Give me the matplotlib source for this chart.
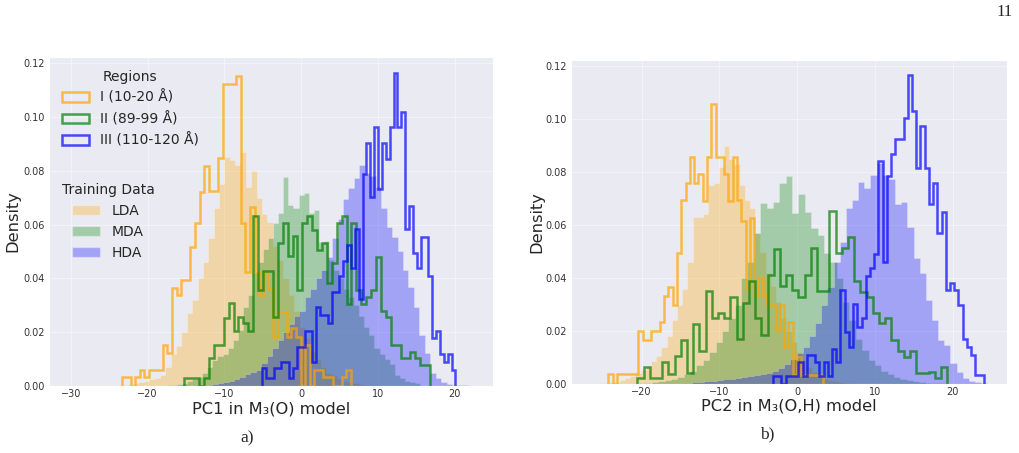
import matplotlib.pyplot as plt
import matplotlib.patches as mpatches
import numpy as np
import seaborn as sns

sns.set_style("darkgrid")
plt.rcParams['font.family'] = ['DejaVu Sans']

# ---------------- panel a) PC1 in M3(O) ----------------
# training data (filled histograms), 50 bins over [start, stop]
a_lda_range = (-24.0, 11.0)
a_lda = [0.0003, 0.0003, 0.0006, 0.001, 0.0015, 0.002, 0.0025, 0.003, 0.0041, 0.0072,
         0.012, 0.015, 0.020, 0.027, 0.032, 0.040, 0.046, 0.055, 0.066, 0.075,
         0.085, 0.084, 0.082, 0.087, 0.074, 0.080, 0.070, 0.064, 0.061, 0.052,
         0.047, 0.040, 0.034, 0.028, 0.022, 0.018, 0.013, 0.010, 0.007, 0.005,
         0.004, 0.003, 0.002, 0.0015, 0.001, 0.0008, 0.0005, 0.0003, 0.0002, 0.0001]
a_mda_range = (-17.5, 15.5)
a_mda = [0.0003, 0.0005, 0.0008, 0.0012, 0.0018, 0.0025, 0.0035, 0.005, 0.007, 0.0095,
         0.011, 0.012, 0.014, 0.017, 0.021, 0.0295, 0.034, 0.042, 0.046, 0.051,
         0.055, 0.0605, 0.0642, 0.0778, 0.0671, 0.0663, 0.071, 0.0716, 0.0642, 0.0654,
         0.0537, 0.054, 0.047, 0.043, 0.040, 0.036, 0.033, 0.030, 0.026, 0.022,
         0.019, 0.014, 0.012, 0.010, 0.008, 0.004, 0.003, 0.002, 0.0015, 0.001]
a_hda_range = (-13.0, 22.5)
a_hda = [0.0003, 0.0005, 0.0007, 0.001, 0.0014, 0.002, 0.0027, 0.0035, 0.0045, 0.0052,
         0.006, 0.0085, 0.011, 0.014, 0.017, 0.020, 0.023, 0.026, 0.028, 0.033,
         0.036, 0.040, 0.043, 0.048, 0.055, 0.062, 0.0694, 0.0735, 0.0772, 0.0822,
         0.0791, 0.0781, 0.0741, 0.066, 0.0592, 0.0555, 0.050, 0.0431, 0.0369, 0.0295,
         0.019, 0.0121, 0.0047, 0.0028, 0.0016, 0.0007, 0.0005, 0.0003, 0.0002, 0.0001]

# regions (step histograms)
a_r1_range = (-23.4, 6.5)
a_r1 = [0.0035, 0.0035, 0.0, 0.0035, 0.0059, 0.0035, 0.0059, 0.0059, 0.0059, 0.0152,
        0.0121, 0.0363, 0.0338, 0.0394, 0.0394, 0.0518, 0.0605, 0.0722, 0.0818, 0.0725,
        0.0725, 0.0846, 0.1123, 0.1123, 0.1123, 0.1152, 0.0605, 0.0425, 0.0667, 0.042,
        0.034, 0.042, 0.036, 0.0183, 0.0276, 0.0276, 0.0183, 0.0214, 0.0183, 0.0,
        0.0152, 0.0, 0.0059, 0.0059, 0.0035, 0.0035, 0.0, 0.0, 0.0035, 0.0059]
a_r2_range = (-15.2, 16.8)
a_r2 = [0.0029, 0.0029, 0.0029, 0.0, 0.003, 0.0103, 0.0152, 0.0152, 0.0252, 0.0307,
        0.0206, 0.0255, 0.0235, 0.0206, 0.0633, 0.0357, 0.0429, 0.0429, 0.0255, 0.053,
        0.0607, 0.0483, 0.0559, 0.0357, 0.0607, 0.0633, 0.058, 0.0506, 0.053, 0.0382,
        0.0456, 0.0605, 0.0633, 0.0304, 0.0607, 0.0357, 0.0304, 0.033, 0.0357, 0.048,
        0.028, 0.0255, 0.0152, 0.0152, 0.0103, 0.0103, 0.0128, 0.0103, 0.0078, 0.0078]
a_r3_range = (-5.1, 20.1)
a_r3 = [0.0066, 0.0029, 0.0029, 0.0066, 0.0066, 0.009, 0.009, 0.0029, 0.0066, 0.0146,
        0.0146, 0.0206, 0.0206, 0.009, 0.0293, 0.0264, 0.0264, 0.0233, 0.0351, 0.0351,
        0.0409, 0.0466, 0.0524, 0.0437, 0.0582, 0.0322, 0.0788, 0.0905, 0.0701, 0.0962,
        0.0731, 0.0902, 0.0844, 0.0962, 0.1165, 0.0962, 0.102, 0.0582, 0.067, 0.0496,
        0.0437, 0.0553, 0.0553, 0.0409, 0.0177, 0.0206, 0.0119, 0.009, 0.0119, 0.0059]

# ---------------- panel b) PC2 in M3(O,H) ----------------
b_lda_range = (-25.5, 8.0)
b_lda = [0.0002, 0.0003, 0.0006, 0.0009, 0.0015, 0.0022, 0.003, 0.004, 0.0053, 0.0068,
         0.0085, 0.0105, 0.014, 0.018, 0.024, 0.030, 0.036, 0.046, 0.063, 0.063,
         0.064, 0.075, 0.076, 0.082, 0.0898, 0.085, 0.083, 0.075, 0.0694, 0.0663,
         0.057, 0.050, 0.042, 0.037, 0.031, 0.025, 0.020, 0.016, 0.012, 0.009,
         0.0065, 0.0045, 0.003, 0.002, 0.0014, 0.001, 0.0006, 0.0004, 0.0002, 0.0001]
b_mda_range = (-21.16, 19.84)
b_mda = [0.0001, 0.0002, 0.0004, 0.0006, 0.001, 0.0014, 0.002, 0.0027, 0.0037, 0.005,
         0.007, 0.009, 0.012, 0.016, 0.020, 0.025, 0.030, 0.040, 0.046, 0.057,
         0.0682, 0.0663, 0.0688, 0.0757, 0.0785, 0.0644, 0.0716, 0.065, 0.059, 0.0562,
         0.0493, 0.0461, 0.040, 0.031, 0.024, 0.017, 0.013, 0.009, 0.007, 0.005,
         0.0037, 0.0025, 0.002, 0.0015, 0.001, 0.0008, 0.0005, 0.0003, 0.0002, 0.0001]
b_hda_range = (-15.12, 24.48)
b_hda = [0.0003, 0.0004, 0.0006, 0.0008, 0.001, 0.0012, 0.0015, 0.0018, 0.002, 0.0023,
         0.0026, 0.003, 0.0033, 0.0037, 0.0042, 0.005, 0.006, 0.0075, 0.0095, 0.0116,
         0.014, 0.018, 0.023, 0.030, 0.0367, 0.0461, 0.0537, 0.0663, 0.0694, 0.0763,
         0.0738, 0.0789, 0.0833, 0.0789, 0.0772, 0.0681, 0.0688, 0.0594, 0.0474, 0.0418,
         0.0317, 0.0242, 0.0166, 0.0147, 0.0078, 0.0046, 0.0021, 0.0012, 0.0007, 0.0003]

b_r1_range = (-24.3, 3.3)
b_r1 = [0.0037, 0.0, 0.0037, 0.0037, 0.0037, 0.0037, 0.0037, 0.0201, 0.0166, 0.0166,
        0.0201, 0.0201, 0.0235, 0.0332, 0.0365, 0.0298, 0.0496, 0.0694, 0.076, 0.0858,
        0.076, 0.0791, 0.0692, 0.0858, 0.1057, 0.0855, 0.0855, 0.0791, 0.0692, 0.0858,
        0.0694, 0.0615, 0.0362, 0.0628, 0.0332, 0.0399, 0.0332, 0.0298, 0.0298, 0.0204,
        0.0298, 0.0138, 0.0233, 0.0034, 0.0103, 0.0034, 0.0034, 0.0034, 0.0034, 0.0034]
b_r2_range = (-20.55, 19.3)
b_r2 = [0.0021, 0.0065, 0.0021, 0.0021, 0.0084, 0.0039, 0.0106, 0.0166, 0.0043, 0.0226,
        0.0126, 0.0351, 0.0248, 0.0267, 0.0248, 0.0327, 0.0169, 0.0307, 0.039, 0.0248,
        0.0185, 0.0411, 0.0509, 0.037, 0.0411, 0.0355, 0.0327, 0.0411, 0.0512, 0.0351,
        0.0351, 0.0654, 0.0493, 0.0512, 0.0553, 0.039, 0.0349, 0.033, 0.0267, 0.0229,
        0.0248, 0.0166, 0.0126, 0.0103, 0.0126, 0.0043, 0.0043, 0.0047, 0.0021, 0.0065]
b_r3_range = (-3.1, 24.0)
b_r3 = [0.003, 0.003, 0.0, 0.003, 0.003, 0.003, 0.0084, 0.003, 0.0109, 0.0109,
        0.0084, 0.003, 0.0084, 0.003, 0.0134, 0.0084, 0.0355, 0.0197, 0.0141, 0.0301,
        0.0216, 0.0248, 0.0408, 0.0437, 0.0491, 0.0842, 0.0462, 0.0786, 0.0868, 0.0923,
        0.0923, 0.1003, 0.1166, 0.103, 0.0814, 0.0975, 0.0814, 0.0679, 0.076, 0.0571,
        0.065, 0.0355, 0.0382, 0.0355, 0.0298, 0.017, 0.0139, 0.0109, 0.0033, 0.0033]

colors = ['orange', 'green', 'blue']
region_labels = ['I (10-20 Å)', 'II (89-99 Å)', 'III (110-120 Å)']
train_labels = ['LDA', 'MDA', 'HDA']


def edges_for(rng, vals):
    return np.linspace(rng[0], rng[1], len(vals) + 1)


def draw_panel(ax, fills, steps, xlabel, xlim, ylab_x):
    for (rng, vals), c in zip(fills, colors):
        ax.stairs(vals, edges_for(rng, vals), fill=True, facecolor=c,
                  edgecolor='white', lw=0.5, alpha=0.3)
    for (rng, vals), c in zip(steps, colors):
        ax.stairs(vals, edges_for(rng, vals), color=c, lw=1.8, alpha=0.7)
    ax.set_xlim(*xlim)
    ax.set_ylim(0, 0.1223)
    ax.set_yticks(np.arange(0, 0.121, 0.02))
    ax.set_xlabel(xlabel, fontsize=11.7)
    ax.set_ylabel('Density', fontsize=11.7)
    ax.xaxis.set_label_coords(0.5, -0.046)
    ax.yaxis.set_label_coords(ylab_x, 0.5)
    ax.tick_params(labelsize=7, colors='#333333', length=0)
    ax.tick_params(axis='x', pad=2.5)
    ax.tick_params(axis='y', pad=3)
    ax.grid(color='white', lw=0.5, alpha=0.6)


fig = plt.figure(figsize=(10.2, 4.53), dpi=100)
ax1 = fig.add_axes([49 / 1020, 1 - 386 / 453, 444 / 1020, 329 / 453])
ax2 = fig.add_axes([571 / 1020, 1 - 384 / 453, 436 / 1020, 324 / 453])

draw_panel(ax1,
           [(a_lda_range, a_lda), (a_mda_range, a_mda), (a_hda_range, a_hda)],
           [(a_r1_range, a_r1), (a_r2_range, a_r2), (a_r3_range, a_r3)],
           'PC1 in M₃(O) model', (-32.85, 25.0), -0.065)
draw_panel(ax2,
           [(b_lda_range, b_lda), (b_mda_range, b_mda), (b_hda_range, b_hda)],
           [(b_r1_range, b_r1), (b_r2_range, b_r2), (b_r3_range, b_r3)],
           'PC2 in M₃(O,H) model', (-29.1, 27.0), -0.062)
ax2.set_xticks([-20, -10, 0, 10, 20])

# two legends in panel a)
reg_handles = [mpatches.Patch(facecolor='none', edgecolor=c, lw=1.8, alpha=0.7, label=l)
               for c, l in zip(colors, region_labels)]
train_handles = [mpatches.Patch(facecolor=c, alpha=0.3, label=l)
                 for c, l in zip(colors, train_labels)]
leg1 = ax1.legend(handles=reg_handles, title='Regions', loc='upper left',
                  fontsize=10, title_fontsize=10, frameon=False)
ax1.add_artist(leg1)
ax1.legend(handles=train_handles, title='Training Data', loc='upper left',
           bbox_to_anchor=(0.0, 0.655), fontsize=10, title_fontsize=10, frameon=False)

# page furniture from the paper
fig.text(1005 / 1020, 1 - 12 / 453, '11', family='Liberation Serif', fontsize=12,
         ha='center', va='center')
fig.text(247 / 1020, 1 - 438 / 453, 'a)', family='Liberation Serif', fontsize=12.5,
         ha='center', va='center')
fig.text(767 / 1020, 1 - 434 / 453, 'b)', family='Liberation Serif', fontsize=12.5,
         ha='center', va='center')

fig.savefig('out.png', dpi=100)
